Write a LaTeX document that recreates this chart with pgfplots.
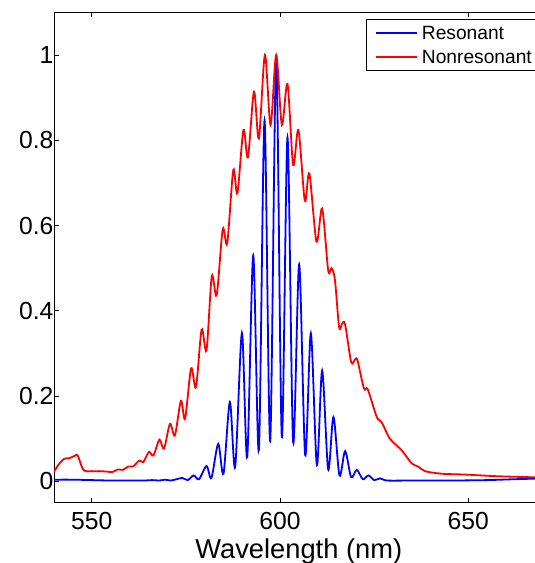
\documentclass[border=0pt]{standalone}
\usepackage{fontspec}
\setmainfont{Liberation Sans}
\usepackage{pgfplots}
\pgfplotsset{compat=1.18}
\begin{document}
\begin{tikzpicture}
\begin{axis}[
 at={(0,0)}, anchor=south west,
 scale only axis, width=489.6pt, height=490.4pt,
 xmin=540, xmax=670, ymin=-0.05, ymax=1.1,
 xtick={550,600,650}, ytick={0,0.2,0.4,0.6,0.8,1},
 tick align=inside, major tick length=5pt,
 tick style={black, line width=0.8pt},
 axis line style={line width=0.9pt},
 ticklabel style={font=\fontsize{24.7}{28}\selectfont},
 /pgf/number format/assume math mode=true,
 xticklabel style={yshift=-6pt},
 yticklabel style={xshift=3pt},
 xlabel={Wavelength (nm)},
 xlabel style={font=\fontsize{27.3}{30}\selectfont, at={(axis description cs:0.5,0)}, anchor=base, yshift=-55.3pt},
]
\addplot[blue, line width=1.8pt, smooth, tension=0.5] coordinates {
(540,0.004)(545,0.004)(550,0.003)(555,0.002)(560,0.002)(564,0.002)(566,0.003)(568,0.002)(569.5,0.004)(571,0.002)(572.5,0.005)(574.1,0.008)(575.5,0.003)(577.1,0.014)(578.5,0.005)(580.5,0.036)(581.8,0.008)(583.6,0.088)(585,0.018)(586.7,0.186)(588.1,0.034)(589.9,0.348)(591.3,0.057)(592.9,0.53)(594.4,0.074)(595.9,0.846)(597.4,0.094)(599.0,0.99)(600.5,0.104)(602.0,0.807)(603.5,0.092)(605.1,0.509)(606.7,0.061)(608.2,0.347)(609.8,0.038)(611.2,0.26)(612.8,0.028)(614.2,0.151)(615.8,0.014)(617.3,0.071)(618.9,0.01)(620.4,0.027)(622,0.005)(623.5,0.014)(625,0.003)(626.6,0.007)(628.5,0.002)(635,0.002)(645,0.002)(655,0.003)(662,0.005)(670,0.007)
};
\addplot[red, line width=1.8pt, smooth, tension=0.5] coordinates {
(540,0.022)(541.1,0.038)(542.7,0.053)(544,0.054)(545.5,0.06)(546.3,0.061)(547.8,0.027)(550,0.024)(552,0.024)(554,0.023)(555.5,0.022)(557,0.028)(558.3,0.027)(559.7,0.035)(561,0.035)(562.7,0.049)(563.7,0.045)(565.2,0.069)(566.4,0.061)(568,0.098)(569.2,0.077)(570.8,0.135)(572.1,0.108)(573.7,0.189)(574.8,0.147)(576.4,0.265)(577.7,0.221)(579.2,0.356)(580.5,0.308)(581.9,0.481)(583.2,0.437)(584.8,0.591)(586,0.559)(587.6,0.73)(588.7,0.676)(590.3,0.824)(591.5,0.76)(593.1,0.914)(594.4,0.804)(596,1.0)(597.5,0.836)(599,1.0)(600.5,0.836)(602,0.932)(603.5,0.742)(604.9,0.824)(606.6,0.658)(607.8,0.722)(609.7,0.562)(611.2,0.64)(612.8,0.495)(613.7,0.50)(614.6,0.472)(615.7,0.362)(616.5,0.37)(617.3,0.368)(618.9,0.28)(620,0.287)(620.6,0.283)(622.3,0.218)(623.3,0.216)(625.7,0.151)(627,0.139)(629.2,0.1)(632.3,0.073)(635,0.042)(636.7,0.035)(638.5,0.024)(642.9,0.018)(649.1,0.016)(658,0.012)(670,0.009)
};
\end{axis}
% legend
\draw[black, line width=0.9pt, fill=white] (312.7pt,432pt) rectangle (490pt,483.7pt);
\draw[blue, line width=1.8pt] (321.7pt,469.4pt) -- (362.7pt,469.4pt);
\draw[red, line width=1.8pt] (321.7pt,446pt) -- (362.7pt,446pt);
\node[anchor=west, inner sep=0pt, font=\fontsize{19.2}{23}\selectfont] at (367.7pt,469.4pt) {Resonant};
\node[anchor=west, inner sep=0pt, font=\fontsize{19.2}{23}\selectfont] at (367.7pt,446pt) {Nonresonant};
\pgfresetboundingbox
\path[use as bounding box] (-54pt,-60.3pt) rectangle (481pt,502.7pt);
\end{tikzpicture}
\end{document}
